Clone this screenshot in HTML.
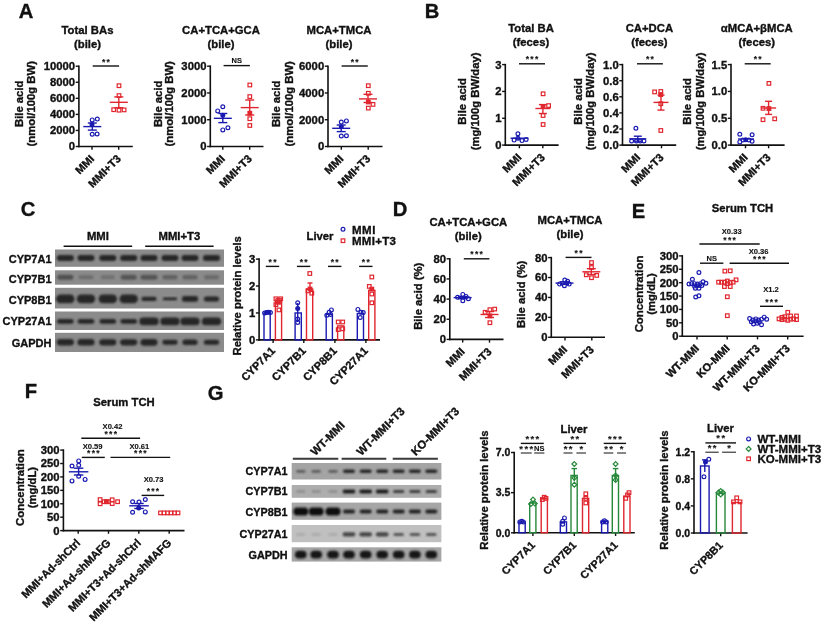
<!DOCTYPE html>
<html><head><meta charset="utf-8"><title>Figure</title>
<style>
html,body{margin:0;padding:0;background:#fff;}
svg{display:block;}
text{font-family:"Liberation Sans",Arial,sans-serif;font-weight:bold;fill:#111;stroke:#111;stroke-width:0.35px;}
.t{stroke-width:0.12px;}
</style></head><body>
<svg width="824" height="626" viewBox="0 0 824 626">
<defs><filter id="bl" x="-30%" y="-60%" width="160%" height="220%"><feGaussianBlur stdDeviation="0.9"/></filter></defs>
<rect width="824" height="626" fill="#fff"/>
<text x="18.7" y="18.2" font-size="20.2" text-anchor="start">A</text>
<text x="424.7" y="18.2" font-size="20.2" text-anchor="start">B</text>
<text x="20.7" y="216.2" font-size="20.2" text-anchor="start">C</text>
<text x="392.7" y="216.2" font-size="20.2" text-anchor="start">D</text>
<text x="631.7" y="218.2" font-size="20.2" text-anchor="start">E</text>
<text x="24.7" y="398.2" font-size="20.2" text-anchor="start">F</text>
<text x="207.7" y="400.2" font-size="20.2" text-anchor="start">G</text>
<text x="87.5" y="34" font-size="11.3" text-anchor="middle">Total BAs</text>
<text x="87.5" y="47.8" font-size="11.3" text-anchor="middle">(bile)</text>
<line x1="78.9" y1="65.4" x2="78.9" y2="147.3" stroke="#111111" stroke-width="1.6"/>
<line x1="78.1" y1="146.5" x2="132.8" y2="146.5" stroke="#111111" stroke-width="1.6"/>
<line x1="75.7" y1="66.2" x2="78.9" y2="66.2" stroke="#111111" stroke-width="1.4"/>
<text x="75.1" y="70.16" font-size="11.3" text-anchor="end">10000</text>
<line x1="75.7" y1="82.26" x2="78.9" y2="82.26" stroke="#111111" stroke-width="1.4"/>
<text x="75.1" y="86.22" font-size="11.3" text-anchor="end">8000</text>
<line x1="75.7" y1="98.32" x2="78.9" y2="98.32" stroke="#111111" stroke-width="1.4"/>
<text x="75.1" y="102.28" font-size="11.3" text-anchor="end">6000</text>
<line x1="75.7" y1="114.38" x2="78.9" y2="114.38" stroke="#111111" stroke-width="1.4"/>
<text x="75.1" y="118.34" font-size="11.3" text-anchor="end">4000</text>
<line x1="75.7" y1="130.44" x2="78.9" y2="130.44" stroke="#111111" stroke-width="1.4"/>
<text x="75.1" y="134.4" font-size="11.3" text-anchor="end">2000</text>
<line x1="75.7" y1="146.5" x2="78.9" y2="146.5" stroke="#111111" stroke-width="1.4"/>
<text x="75.1" y="150.46" font-size="11.3" text-anchor="end">0</text>
<line x1="92" y1="146.5" x2="92" y2="149.7" stroke="#111111" stroke-width="1.4"/>
<line x1="118.7" y1="146.5" x2="118.7" y2="149.7" stroke="#111111" stroke-width="1.4"/>
<text x="94.8" y="159.5" font-size="11.01" text-anchor="end" transform="rotate(-45 94.8 159.5)">MMI</text>
<text x="121.5" y="159.5" font-size="11.01" text-anchor="end" transform="rotate(-45 121.5 159.5)">MMI+T3</text>
<text x="22.6" y="103.8" font-size="11.3" text-anchor="middle" transform="rotate(-90 22.6 103.8)">Bile acid</text>
<text x="35.4" y="103.8" font-size="11.3" text-anchor="middle" transform="rotate(-90 35.4 103.8)">(nmol/100g BW)</text>
<line x1="92.7" y1="66" x2="119.1" y2="66" stroke="#111111" stroke-width="1.4"/>
<text x="106.55" y="64.5" font-size="8.5" text-anchor="middle" class="t" letter-spacing="1.3">**</text>
<line x1="83.3" y1="126.6" x2="101.3" y2="126.6" stroke="#1a1ab0" stroke-width="1.4"/>
<line x1="92.3" y1="123" x2="92.3" y2="130.1" stroke="#1a1ab0" stroke-width="1.4"/>
<line x1="87.8" y1="123" x2="96.8" y2="123" stroke="#1a1ab0" stroke-width="1.4"/>
<line x1="87.8" y1="130.1" x2="96.8" y2="130.1" stroke="#1a1ab0" stroke-width="1.4"/>
<circle cx="92.2" cy="119.9" r="1.9" stroke="#1a1ab0" stroke-width="1.2" fill="none"/>
<circle cx="97.3" cy="119.1" r="1.9" stroke="#1a1ab0" stroke-width="1.2" fill="none"/>
<circle cx="92.2" cy="134.2" r="1.9" stroke="#1a1ab0" stroke-width="1.2" fill="none"/>
<circle cx="97.1" cy="134" r="1.9" stroke="#1a1ab0" stroke-width="1.2" fill="none"/>
<circle cx="92" cy="124.5" r="1.9" stroke="#1a1ab0" stroke-width="1.2" fill="#1a1ab0"/>
<line x1="109.8" y1="102.3" x2="127.8" y2="102.3" stroke="#e0262e" stroke-width="1.4"/>
<line x1="118.8" y1="96.9" x2="118.8" y2="107.7" stroke="#e0262e" stroke-width="1.4"/>
<line x1="114.3" y1="96.9" x2="123.3" y2="96.9" stroke="#e0262e" stroke-width="1.4"/>
<line x1="114.3" y1="107.7" x2="123.3" y2="107.7" stroke="#e0262e" stroke-width="1.4"/>
<rect x="117.2" y="83.9" width="3.6" height="3.6" stroke="#e0262e" stroke-width="1.2" fill="none"/>
<rect x="117.2" y="93.8" width="3.6" height="3.6" stroke="#e0262e" stroke-width="1.2" fill="none"/>
<rect x="111.9" y="107.9" width="3.6" height="3.6" stroke="#e0262e" stroke-width="1.2" fill="none"/>
<rect x="117.2" y="108.4" width="3.6" height="3.6" stroke="#e0262e" stroke-width="1.2" fill="none"/>
<rect x="122.3" y="108.1" width="3.6" height="3.6" stroke="#e0262e" stroke-width="1.2" fill="none"/>
<text x="221" y="34" font-size="11.3" text-anchor="middle">CA+TCA+GCA</text>
<text x="221" y="47.8" font-size="11.3" text-anchor="middle">(bile)</text>
<line x1="210.3" y1="65.4" x2="210.3" y2="147.3" stroke="#111111" stroke-width="1.6"/>
<line x1="209.5" y1="146.5" x2="263.5" y2="146.5" stroke="#111111" stroke-width="1.6"/>
<line x1="207.1" y1="66.2" x2="210.3" y2="66.2" stroke="#111111" stroke-width="1.4"/>
<text x="206.5" y="70.16" font-size="11.3" text-anchor="end">3000</text>
<line x1="207.1" y1="92.97" x2="210.3" y2="92.97" stroke="#111111" stroke-width="1.4"/>
<text x="206.5" y="96.93" font-size="11.3" text-anchor="end">2000</text>
<line x1="207.1" y1="119.73" x2="210.3" y2="119.73" stroke="#111111" stroke-width="1.4"/>
<text x="206.5" y="123.69" font-size="11.3" text-anchor="end">1000</text>
<line x1="207.1" y1="146.5" x2="210.3" y2="146.5" stroke="#111111" stroke-width="1.4"/>
<text x="206.5" y="150.46" font-size="11.3" text-anchor="end">0</text>
<line x1="222.8" y1="146.5" x2="222.8" y2="149.7" stroke="#111111" stroke-width="1.4"/>
<line x1="249.7" y1="146.5" x2="249.7" y2="149.7" stroke="#111111" stroke-width="1.4"/>
<text x="225.6" y="159.5" font-size="11.01" text-anchor="end" transform="rotate(-45 225.6 159.5)">MMI</text>
<text x="252.5" y="159.5" font-size="11.01" text-anchor="end" transform="rotate(-45 252.5 159.5)">MMI+T3</text>
<text x="161.8" y="103.8" font-size="11.3" text-anchor="middle" transform="rotate(-90 161.8 103.8)">Bile acid</text>
<text x="172.8" y="103.8" font-size="11.3" text-anchor="middle" transform="rotate(-90 172.8 103.8)">(nmol/100g BW)</text>
<line x1="223.6" y1="65.6" x2="249.9" y2="65.6" stroke="#111111" stroke-width="1.4"/>
<text x="236.75" y="63.1" font-size="7.5" text-anchor="middle" class="t">NS</text>
<line x1="213.8" y1="118.3" x2="231.8" y2="118.3" stroke="#1a1ab0" stroke-width="1.4"/>
<line x1="222.8" y1="113.5" x2="222.8" y2="122.6" stroke="#1a1ab0" stroke-width="1.4"/>
<line x1="218.3" y1="113.5" x2="227.3" y2="113.5" stroke="#1a1ab0" stroke-width="1.4"/>
<line x1="218.3" y1="122.6" x2="227.3" y2="122.6" stroke="#1a1ab0" stroke-width="1.4"/>
<circle cx="222.8" cy="106.8" r="1.9" stroke="#1a1ab0" stroke-width="1.2" fill="none"/>
<circle cx="217.7" cy="110.9" r="1.9" stroke="#1a1ab0" stroke-width="1.2" fill="none"/>
<circle cx="222.8" cy="129.9" r="1.9" stroke="#1a1ab0" stroke-width="1.2" fill="none"/>
<circle cx="227.9" cy="127.8" r="1.9" stroke="#1a1ab0" stroke-width="1.2" fill="none"/>
<circle cx="222.8" cy="115.3" r="1.9" stroke="#1a1ab0" stroke-width="1.2" fill="#1a1ab0"/>
<line x1="240.7" y1="107.6" x2="258.7" y2="107.6" stroke="#e0262e" stroke-width="1.4"/>
<line x1="249.7" y1="100" x2="249.7" y2="115" stroke="#e0262e" stroke-width="1.4"/>
<line x1="245.2" y1="100" x2="254.2" y2="100" stroke="#e0262e" stroke-width="1.4"/>
<line x1="245.2" y1="115" x2="254.2" y2="115" stroke="#e0262e" stroke-width="1.4"/>
<rect x="248" y="83.2" width="3.6" height="3.6" stroke="#e0262e" stroke-width="1.2" fill="none"/>
<rect x="248" y="94.8" width="3.6" height="3.6" stroke="#e0262e" stroke-width="1.2" fill="none"/>
<rect x="248" y="116.9" width="3.6" height="3.6" stroke="#e0262e" stroke-width="1.2" fill="none"/>
<rect x="248" y="123.7" width="3.6" height="3.6" stroke="#e0262e" stroke-width="1.2" fill="none"/>
<rect x="248" y="111.4" width="3.6" height="3.6" stroke="#e0262e" stroke-width="1.2" fill="#e0262e"/>
<text x="339" y="34" font-size="11.3" text-anchor="middle">MCA+TMCA</text>
<text x="339" y="47.8" font-size="11.3" text-anchor="middle">(bile)</text>
<line x1="328" y1="65.4" x2="328" y2="147.3" stroke="#111111" stroke-width="1.6"/>
<line x1="327.2" y1="146.5" x2="382.5" y2="146.5" stroke="#111111" stroke-width="1.6"/>
<line x1="324.8" y1="66.2" x2="328" y2="66.2" stroke="#111111" stroke-width="1.4"/>
<text x="324.2" y="70.16" font-size="11.3" text-anchor="end">6000</text>
<line x1="324.8" y1="92.97" x2="328" y2="92.97" stroke="#111111" stroke-width="1.4"/>
<text x="324.2" y="96.93" font-size="11.3" text-anchor="end">4000</text>
<line x1="324.8" y1="119.73" x2="328" y2="119.73" stroke="#111111" stroke-width="1.4"/>
<text x="324.2" y="123.69" font-size="11.3" text-anchor="end">2000</text>
<line x1="324.8" y1="146.5" x2="328" y2="146.5" stroke="#111111" stroke-width="1.4"/>
<text x="324.2" y="150.46" font-size="11.3" text-anchor="end">0</text>
<line x1="341.3" y1="146.5" x2="341.3" y2="149.7" stroke="#111111" stroke-width="1.4"/>
<line x1="368.2" y1="146.5" x2="368.2" y2="149.7" stroke="#111111" stroke-width="1.4"/>
<text x="344.1" y="159.5" font-size="11.01" text-anchor="end" transform="rotate(-45 344.1 159.5)">MMI</text>
<text x="371" y="159.5" font-size="11.01" text-anchor="end" transform="rotate(-45 371 159.5)">MMI+T3</text>
<text x="280" y="103.8" font-size="11.3" text-anchor="middle" transform="rotate(-90 280 103.8)">Bile acid</text>
<text x="292.9" y="103.8" font-size="11.3" text-anchor="middle" transform="rotate(-90 292.9 103.8)">(nmol/100g BW)</text>
<line x1="341.6" y1="66" x2="367.8" y2="66" stroke="#111111" stroke-width="1.4"/>
<text x="355.35" y="64.5" font-size="8.5" text-anchor="middle" class="t" letter-spacing="1.3">**</text>
<line x1="332.2" y1="128.3" x2="350.2" y2="128.3" stroke="#1a1ab0" stroke-width="1.4"/>
<line x1="341.2" y1="125" x2="341.2" y2="131.6" stroke="#1a1ab0" stroke-width="1.4"/>
<line x1="336.7" y1="125" x2="345.7" y2="125" stroke="#1a1ab0" stroke-width="1.4"/>
<line x1="336.7" y1="131.6" x2="345.7" y2="131.6" stroke="#1a1ab0" stroke-width="1.4"/>
<circle cx="341.3" cy="122.1" r="1.9" stroke="#1a1ab0" stroke-width="1.2" fill="none"/>
<circle cx="346.4" cy="120.9" r="1.9" stroke="#1a1ab0" stroke-width="1.2" fill="none"/>
<circle cx="341.3" cy="136" r="1.9" stroke="#1a1ab0" stroke-width="1.2" fill="none"/>
<circle cx="346.4" cy="135.7" r="1.9" stroke="#1a1ab0" stroke-width="1.2" fill="none"/>
<circle cx="341.3" cy="126.8" r="1.9" stroke="#1a1ab0" stroke-width="1.2" fill="#1a1ab0"/>
<line x1="359" y1="98.9" x2="377" y2="98.9" stroke="#e0262e" stroke-width="1.4"/>
<line x1="368" y1="94.3" x2="368" y2="102.5" stroke="#e0262e" stroke-width="1.4"/>
<line x1="363.5" y1="94.3" x2="372.5" y2="94.3" stroke="#e0262e" stroke-width="1.4"/>
<line x1="363.5" y1="102.5" x2="372.5" y2="102.5" stroke="#e0262e" stroke-width="1.4"/>
<rect x="366.5" y="83.9" width="3.6" height="3.6" stroke="#e0262e" stroke-width="1.2" fill="none"/>
<rect x="366.5" y="91.5" width="3.6" height="3.6" stroke="#e0262e" stroke-width="1.2" fill="none"/>
<rect x="371.2" y="102.6" width="3.6" height="3.6" stroke="#e0262e" stroke-width="1.2" fill="none"/>
<rect x="366.5" y="106.3" width="3.6" height="3.6" stroke="#e0262e" stroke-width="1.2" fill="none"/>
<rect x="366.5" y="100.2" width="3.6" height="3.6" stroke="#e0262e" stroke-width="1.2" fill="#e0262e"/>
<text x="531" y="32" font-size="11.3" text-anchor="middle">Total BA</text>
<text x="531" y="45.8" font-size="11.3" text-anchor="middle">(feces)</text>
<line x1="505.3" y1="63.8" x2="505.3" y2="145.9" stroke="#111111" stroke-width="1.6"/>
<line x1="504.5" y1="145.1" x2="558.6" y2="145.1" stroke="#111111" stroke-width="1.6"/>
<line x1="502.1" y1="64.6" x2="505.3" y2="64.6" stroke="#111111" stroke-width="1.4"/>
<text x="501.5" y="68.56" font-size="11.3" text-anchor="end">3</text>
<line x1="502.1" y1="91.43" x2="505.3" y2="91.43" stroke="#111111" stroke-width="1.4"/>
<text x="501.5" y="95.39" font-size="11.3" text-anchor="end">2</text>
<line x1="502.1" y1="118.27" x2="505.3" y2="118.27" stroke="#111111" stroke-width="1.4"/>
<text x="501.5" y="122.23" font-size="11.3" text-anchor="end">1</text>
<line x1="502.1" y1="145.1" x2="505.3" y2="145.1" stroke="#111111" stroke-width="1.4"/>
<text x="501.5" y="149.06" font-size="11.3" text-anchor="end">0</text>
<line x1="519.4" y1="145.1" x2="519.4" y2="148.3" stroke="#111111" stroke-width="1.4"/>
<line x1="542.8" y1="145.1" x2="542.8" y2="148.3" stroke="#111111" stroke-width="1.4"/>
<text x="522.2" y="158.1" font-size="11.01" text-anchor="end" transform="rotate(-45 522.2 158.1)">MMI</text>
<text x="545.6" y="158.1" font-size="11.01" text-anchor="end" transform="rotate(-45 545.6 158.1)">MMI+T3</text>
<text x="466" y="101.4" font-size="11.3" text-anchor="middle" transform="rotate(-90 466 101.4)">Bile acid</text>
<text x="479" y="101.4" font-size="11.3" text-anchor="middle" transform="rotate(-90 479 101.4)">(mg/100g BW/day)</text>
<line x1="519" y1="63.8" x2="545" y2="63.8" stroke="#111111" stroke-width="1.4"/>
<text x="532.65" y="62.3" font-size="8.5" text-anchor="middle" class="t" letter-spacing="1.3">***</text>
<line x1="510.5" y1="138.2" x2="528.5" y2="138.2" stroke="#1a1ab0" stroke-width="1.4"/>
<line x1="518" y1="136.3" x2="518" y2="140" stroke="#1a1ab0" stroke-width="1.4"/>
<circle cx="517.9" cy="133.7" r="1.9" stroke="#1a1ab0" stroke-width="1.2" fill="none"/>
<circle cx="514.1" cy="140.1" r="1.9" stroke="#1a1ab0" stroke-width="1.2" fill="none"/>
<circle cx="517.9" cy="138.2" r="1.9" stroke="#1a1ab0" stroke-width="1.2" fill="none"/>
<circle cx="522" cy="140.6" r="1.9" stroke="#1a1ab0" stroke-width="1.2" fill="none"/>
<circle cx="526.1" cy="139.4" r="1.9" stroke="#1a1ab0" stroke-width="1.2" fill="none"/>
<line x1="535.4" y1="108.5" x2="550.4" y2="108.5" stroke="#e0262e" stroke-width="1.4"/>
<line x1="542.9" y1="104.6" x2="542.9" y2="113.5" stroke="#e0262e" stroke-width="1.4"/>
<line x1="538.9" y1="104.6" x2="546.9" y2="104.6" stroke="#e0262e" stroke-width="1.4"/>
<line x1="538.9" y1="113.5" x2="546.9" y2="113.5" stroke="#e0262e" stroke-width="1.4"/>
<rect x="541.3" y="92" width="3.6" height="3.6" stroke="#e0262e" stroke-width="1.2" fill="none"/>
<rect x="546.8" y="103.8" width="3.6" height="3.6" stroke="#e0262e" stroke-width="1.2" fill="none"/>
<rect x="541.3" y="113.7" width="3.6" height="3.6" stroke="#e0262e" stroke-width="1.2" fill="none"/>
<rect x="541.3" y="122.7" width="3.6" height="3.6" stroke="#e0262e" stroke-width="1.2" fill="none"/>
<rect x="541.3" y="104.8" width="3.6" height="3.6" stroke="#e0262e" stroke-width="1.2" fill="#e0262e"/>
<text x="649.4" y="32" font-size="11.3" text-anchor="middle">CA+DCA</text>
<text x="649.4" y="45.8" font-size="11.3" text-anchor="middle">(feces)</text>
<line x1="622.5" y1="63.8" x2="622.5" y2="145.9" stroke="#111111" stroke-width="1.6"/>
<line x1="621.7" y1="145.1" x2="676.2" y2="145.1" stroke="#111111" stroke-width="1.6"/>
<line x1="619.3" y1="64.6" x2="622.5" y2="64.6" stroke="#111111" stroke-width="1.4"/>
<text x="618.7" y="68.56" font-size="11.3" text-anchor="end">1.0</text>
<line x1="619.3" y1="80.7" x2="622.5" y2="80.7" stroke="#111111" stroke-width="1.4"/>
<text x="618.7" y="84.66" font-size="11.3" text-anchor="end">0.8</text>
<line x1="619.3" y1="96.8" x2="622.5" y2="96.8" stroke="#111111" stroke-width="1.4"/>
<text x="618.7" y="100.76" font-size="11.3" text-anchor="end">0.6</text>
<line x1="619.3" y1="112.9" x2="622.5" y2="112.9" stroke="#111111" stroke-width="1.4"/>
<text x="618.7" y="116.86" font-size="11.3" text-anchor="end">0.4</text>
<line x1="619.3" y1="129" x2="622.5" y2="129" stroke="#111111" stroke-width="1.4"/>
<text x="618.7" y="132.96" font-size="11.3" text-anchor="end">0.2</text>
<line x1="619.3" y1="145.1" x2="622.5" y2="145.1" stroke="#111111" stroke-width="1.4"/>
<text x="618.7" y="149.06" font-size="11.3" text-anchor="end">0.0</text>
<line x1="638" y1="145.1" x2="638" y2="148.3" stroke="#111111" stroke-width="1.4"/>
<line x1="661.5" y1="145.1" x2="661.5" y2="148.3" stroke="#111111" stroke-width="1.4"/>
<text x="640.8" y="158.1" font-size="11.01" text-anchor="end" transform="rotate(-45 640.8 158.1)">MMI</text>
<text x="664.3" y="158.1" font-size="11.01" text-anchor="end" transform="rotate(-45 664.3 158.1)">MMI+T3</text>
<text x="582" y="101.4" font-size="11.3" text-anchor="middle" transform="rotate(-90 582 101.4)">Bile acid</text>
<text x="594.5" y="101.4" font-size="11.3" text-anchor="middle" transform="rotate(-90 594.5 101.4)">(mg/100g BW/day)</text>
<line x1="637" y1="63.8" x2="662.9" y2="63.8" stroke="#111111" stroke-width="1.4"/>
<text x="650.6" y="62.3" font-size="8.5" text-anchor="middle" class="t" letter-spacing="1.3">**</text>
<line x1="629.3" y1="138.8" x2="646.3" y2="138.8" stroke="#1a1ab0" stroke-width="1.4"/>
<line x1="637.8" y1="136.2" x2="637.8" y2="141.2" stroke="#1a1ab0" stroke-width="1.4"/>
<line x1="633.8" y1="136.2" x2="641.8" y2="136.2" stroke="#1a1ab0" stroke-width="1.4"/>
<line x1="633.8" y1="141.2" x2="641.8" y2="141.2" stroke="#1a1ab0" stroke-width="1.4"/>
<circle cx="635.9" cy="128.3" r="1.9" stroke="#1a1ab0" stroke-width="1.2" fill="none"/>
<circle cx="631.6" cy="141" r="1.9" stroke="#1a1ab0" stroke-width="1.2" fill="none"/>
<circle cx="636.4" cy="141" r="1.9" stroke="#1a1ab0" stroke-width="1.2" fill="none"/>
<circle cx="640.2" cy="141" r="1.9" stroke="#1a1ab0" stroke-width="1.2" fill="none"/>
<circle cx="644" cy="141" r="1.9" stroke="#1a1ab0" stroke-width="1.2" fill="none"/>
<line x1="653.5" y1="102.4" x2="668.5" y2="102.4" stroke="#e0262e" stroke-width="1.4"/>
<line x1="661" y1="95.1" x2="661" y2="110.1" stroke="#e0262e" stroke-width="1.4"/>
<line x1="657.5" y1="95.1" x2="664.5" y2="95.1" stroke="#e0262e" stroke-width="1.4"/>
<line x1="657.5" y1="110.1" x2="664.5" y2="110.1" stroke="#e0262e" stroke-width="1.4"/>
<rect x="652.8" y="90.1" width="3.6" height="3.6" stroke="#e0262e" stroke-width="1.2" fill="none"/>
<rect x="659" y="89.7" width="3.6" height="3.6" stroke="#e0262e" stroke-width="1.2" fill="none"/>
<rect x="659" y="101.9" width="3.6" height="3.6" stroke="#e0262e" stroke-width="1.2" fill="none"/>
<rect x="659" y="128.7" width="3.6" height="3.6" stroke="#e0262e" stroke-width="1.2" fill="none"/>
<rect x="659" y="92.8" width="3.6" height="3.6" stroke="#e0262e" stroke-width="1.2" fill="#e0262e"/>
<text x="756.8" y="32" font-size="11.3" text-anchor="middle">αMCA+βMCA</text>
<text x="756.8" y="45.8" font-size="11.3" text-anchor="middle">(feces)</text>
<line x1="731" y1="63.8" x2="731" y2="145.9" stroke="#111111" stroke-width="1.6"/>
<line x1="730.2" y1="145.1" x2="784.6" y2="145.1" stroke="#111111" stroke-width="1.6"/>
<line x1="727.8" y1="64.6" x2="731" y2="64.6" stroke="#111111" stroke-width="1.4"/>
<text x="727.2" y="68.56" font-size="11.3" text-anchor="end">1.5</text>
<line x1="727.8" y1="91.43" x2="731" y2="91.43" stroke="#111111" stroke-width="1.4"/>
<text x="727.2" y="95.39" font-size="11.3" text-anchor="end">1.0</text>
<line x1="727.8" y1="118.27" x2="731" y2="118.27" stroke="#111111" stroke-width="1.4"/>
<text x="727.2" y="122.23" font-size="11.3" text-anchor="end">0.5</text>
<line x1="727.8" y1="145.1" x2="731" y2="145.1" stroke="#111111" stroke-width="1.4"/>
<text x="727.2" y="149.06" font-size="11.3" text-anchor="end">0.0</text>
<line x1="745.5" y1="145.1" x2="745.5" y2="148.3" stroke="#111111" stroke-width="1.4"/>
<line x1="768.6" y1="145.1" x2="768.6" y2="148.3" stroke="#111111" stroke-width="1.4"/>
<text x="748.3" y="158.1" font-size="11.01" text-anchor="end" transform="rotate(-45 748.3 158.1)">MMI</text>
<text x="771.4" y="158.1" font-size="11.01" text-anchor="end" transform="rotate(-45 771.4 158.1)">MMI+T3</text>
<text x="691.5" y="101.4" font-size="11.3" text-anchor="middle" transform="rotate(-90 691.5 101.4)">Bile acid</text>
<text x="704" y="101.4" font-size="11.3" text-anchor="middle" transform="rotate(-90 704 101.4)">(mg/100g BW/day)</text>
<line x1="744.7" y1="63.8" x2="770.7" y2="63.8" stroke="#111111" stroke-width="1.4"/>
<text x="758.35" y="62.3" font-size="8.5" text-anchor="middle" class="t" letter-spacing="1.3">**</text>
<line x1="738" y1="139" x2="754" y2="139" stroke="#1a1ab0" stroke-width="1.4"/>
<circle cx="739.8" cy="134.3" r="1.9" stroke="#1a1ab0" stroke-width="1.2" fill="none"/>
<circle cx="752.1" cy="134.8" r="1.9" stroke="#1a1ab0" stroke-width="1.2" fill="none"/>
<circle cx="739.8" cy="141.9" r="1.9" stroke="#1a1ab0" stroke-width="1.2" fill="none"/>
<circle cx="752.1" cy="141.2" r="1.9" stroke="#1a1ab0" stroke-width="1.2" fill="none"/>
<circle cx="743" cy="140" r="1.9" stroke="#1a1ab0" stroke-width="1.2" fill="none"/>
<circle cx="749" cy="140" r="1.9" stroke="#1a1ab0" stroke-width="1.2" fill="none"/>
<circle cx="745.7" cy="139.7" r="1.9" stroke="#1a1ab0" stroke-width="1.2" fill="#1a1ab0"/>
<line x1="761.1" y1="108" x2="776.1" y2="108" stroke="#e0262e" stroke-width="1.4"/>
<line x1="768.6" y1="101.3" x2="768.6" y2="114.4" stroke="#e0262e" stroke-width="1.4"/>
<line x1="765.1" y1="101.3" x2="772.1" y2="101.3" stroke="#e0262e" stroke-width="1.4"/>
<line x1="765.1" y1="114.4" x2="772.1" y2="114.4" stroke="#e0262e" stroke-width="1.4"/>
<rect x="767.1" y="81.6" width="3.6" height="3.6" stroke="#e0262e" stroke-width="1.2" fill="none"/>
<rect x="761.2" y="106.5" width="3.6" height="3.6" stroke="#e0262e" stroke-width="1.2" fill="none"/>
<rect x="761.2" y="117.9" width="3.6" height="3.6" stroke="#e0262e" stroke-width="1.2" fill="none"/>
<rect x="772.9" y="117" width="3.6" height="3.6" stroke="#e0262e" stroke-width="1.2" fill="none"/>
<rect x="767.1" y="106.8" width="3.6" height="3.6" stroke="#e0262e" stroke-width="1.2" fill="#e0262e"/>
<text x="51.5" y="262.5" font-size="11.01" text-anchor="end">CYP7A1</text>
<text x="51.5" y="282.6" font-size="11.01" text-anchor="end">CYP7B1</text>
<text x="51.5" y="303.9" font-size="11.01" text-anchor="end">CYP8B1</text>
<text x="51.5" y="324.9" font-size="11.01" text-anchor="end">CYP27A1</text>
<text x="51.5" y="346.5" font-size="11.01" text-anchor="end">GAPDH</text>
<text x="97.9" y="240.3" font-size="11.3" text-anchor="middle">MMI</text>
<text x="179.4" y="240.3" font-size="11.3" text-anchor="middle">MMI+T3</text>
<line x1="63.6" y1="246.3" x2="132.2" y2="246.3" stroke="#111111" stroke-width="1.5"/>
<line x1="145.2" y1="246.3" x2="213.6" y2="246.3" stroke="#111111" stroke-width="1.5"/>
<rect x="55" y="249.5" width="169" height="17.3" fill="#8b8b8b"/>
<rect x="56.75" y="255.1" width="17.1" height="5.8" rx="2.9" fill="#262626" filter="url(#bl)"/>
<rect x="77.45" y="255.1" width="17.1" height="5.8" rx="2.9" fill="#262626" filter="url(#bl)"/>
<rect x="99.25" y="255.1" width="17.1" height="5.8" rx="2.9" fill="#262626" filter="url(#bl)"/>
<rect x="120.15" y="255.1" width="17.1" height="5.8" rx="2.9" fill="#262626" filter="url(#bl)"/>
<rect x="140.45" y="255.1" width="17.1" height="5.8" rx="2.9" fill="#262626" filter="url(#bl)"/>
<rect x="161.45" y="255.1" width="17.1" height="5.8" rx="2.9" fill="#262626" filter="url(#bl)"/>
<rect x="181.45" y="255.1" width="17.1" height="5.8" rx="2.9" fill="#262626" filter="url(#bl)"/>
<rect x="202.95" y="255.1" width="17.1" height="5.8" rx="2.9" fill="#262626" filter="url(#bl)"/>
<rect x="55" y="270.3" width="169" height="14.4" fill="#8b8b8b"/>
<rect x="57.22" y="274.7" width="16.15" height="5" rx="2.5" fill="#505050" filter="url(#bl)"/>
<rect x="78.4" y="275.2" width="15.2" height="4" rx="2" fill="#6c6c6c" filter="url(#bl)"/>
<rect x="100.67" y="275.2" width="14.25" height="4" rx="2" fill="#707070" filter="url(#bl)"/>
<rect x="120.62" y="274.7" width="16.15" height="5" rx="2.5" fill="#555555" filter="url(#bl)"/>
<rect x="140.45" y="274.7" width="17.1" height="5" rx="2.5" fill="#555555" filter="url(#bl)"/>
<rect x="162.4" y="274.95" width="15.2" height="4.5" rx="2.25" fill="#606060" filter="url(#bl)"/>
<rect x="182.4" y="274.95" width="15.2" height="4.5" rx="2.25" fill="#626262" filter="url(#bl)"/>
<rect x="203.9" y="274.95" width="15.2" height="4.5" rx="2.25" fill="#6a6a6a" filter="url(#bl)"/>
<rect x="55" y="287.8" width="169" height="20.7" fill="#8b8b8b"/>
<rect x="56.08" y="294.6" width="18.43" height="8.6" rx="4.3" fill="#262626" filter="url(#bl)"/>
<rect x="76.78" y="294.6" width="18.43" height="8.6" rx="4.3" fill="#262626" filter="url(#bl)"/>
<rect x="98.58" y="294.6" width="18.43" height="8.6" rx="4.3" fill="#262626" filter="url(#bl)"/>
<rect x="119.48" y="294.6" width="18.43" height="8.6" rx="4.3" fill="#262626" filter="url(#bl)"/>
<rect x="141.4" y="296.8" width="15.2" height="4.2" rx="2.1" fill="#262626" filter="url(#bl)"/>
<rect x="162.88" y="297.6" width="14.25" height="2.6" rx="1.3" fill="#262626" filter="url(#bl)"/>
<rect x="181.93" y="296.1" width="16.15" height="5.6" rx="2.8" fill="#262626" filter="url(#bl)"/>
<rect x="203.9" y="296.4" width="15.2" height="5" rx="2.5" fill="#262626" filter="url(#bl)"/>
<rect x="55" y="311.5" width="169" height="18.5" fill="#8b8b8b"/>
<rect x="56.94" y="319" width="16.72" height="4.8" rx="2.4" fill="#262626" filter="url(#bl)"/>
<rect x="77.64" y="319" width="16.72" height="4.8" rx="2.4" fill="#262626" filter="url(#bl)"/>
<rect x="99.44" y="319" width="16.72" height="4.8" rx="2.4" fill="#262626" filter="url(#bl)"/>
<rect x="120.34" y="319" width="16.72" height="4.8" rx="2.4" fill="#262626" filter="url(#bl)"/>
<rect x="139.31" y="317.6" width="19.38" height="7.6" rx="3.8" fill="#262626" filter="url(#bl)"/>
<rect x="160.31" y="317.6" width="19.38" height="7.6" rx="3.8" fill="#262626" filter="url(#bl)"/>
<rect x="180.31" y="317.6" width="19.38" height="7.6" rx="3.8" fill="#262626" filter="url(#bl)"/>
<rect x="201.81" y="317.6" width="19.38" height="7.6" rx="3.8" fill="#262626" filter="url(#bl)"/>
<rect x="55" y="332.8" width="169" height="19.2" fill="#8b8b8b"/>
<rect x="56.75" y="339.05" width="17.1" height="6.5" rx="3.25" fill="#262626" filter="url(#bl)"/>
<rect x="77.45" y="339.05" width="17.1" height="6.5" rx="3.25" fill="#262626" filter="url(#bl)"/>
<rect x="99.25" y="339.2" width="17.1" height="6.2" rx="3.1" fill="#262626" filter="url(#bl)"/>
<rect x="120.15" y="339.2" width="17.1" height="6.2" rx="3.1" fill="#262626" filter="url(#bl)"/>
<rect x="140.45" y="338.95" width="17.1" height="6.7" rx="3.35" fill="#262626" filter="url(#bl)"/>
<rect x="162.4" y="339.8" width="15.2" height="5" rx="2.5" fill="#262626" filter="url(#bl)"/>
<rect x="182.4" y="339.55" width="15.2" height="5.5" rx="2.75" fill="#262626" filter="url(#bl)"/>
<rect x="203.9" y="339.8" width="15.2" height="5" rx="2.5" fill="#262626" filter="url(#bl)"/>
<line x1="259.1" y1="258.31" x2="259.1" y2="340.7" stroke="#111111" stroke-width="1.6"/>
<line x1="258.3" y1="339.9" x2="380" y2="339.9" stroke="#111111" stroke-width="1.6"/>
<line x1="255.9" y1="339.9" x2="259.1" y2="339.9" stroke="#111111" stroke-width="1.4"/>
<text x="255.3" y="343.86" font-size="11.3" text-anchor="end">0</text>
<line x1="255.9" y1="312.97" x2="259.1" y2="312.97" stroke="#111111" stroke-width="1.4"/>
<text x="255.3" y="316.93" font-size="11.3" text-anchor="end">1</text>
<line x1="255.9" y1="286.04" x2="259.1" y2="286.04" stroke="#111111" stroke-width="1.4"/>
<text x="255.3" y="290" font-size="11.3" text-anchor="end">2</text>
<line x1="255.9" y1="259.11" x2="259.1" y2="259.11" stroke="#111111" stroke-width="1.4"/>
<text x="255.3" y="263.07" font-size="11.3" text-anchor="end">3</text>
<line x1="273.1" y1="339.9" x2="273.1" y2="343.1" stroke="#111111" stroke-width="1.4"/>
<line x1="303.8" y1="339.9" x2="303.8" y2="343.1" stroke="#111111" stroke-width="1.4"/>
<line x1="334.9" y1="339.9" x2="334.9" y2="343.1" stroke="#111111" stroke-width="1.4"/>
<line x1="365.9" y1="339.9" x2="365.9" y2="343.1" stroke="#111111" stroke-width="1.4"/>
<text x="275.9" y="351.5" font-size="11.01" text-anchor="end" transform="rotate(-45 275.9 351.5)">CYP7A1</text>
<text x="306.6" y="351.5" font-size="11.01" text-anchor="end" transform="rotate(-45 306.6 351.5)">CYP7B1</text>
<text x="337.7" y="351.5" font-size="11.01" text-anchor="end" transform="rotate(-45 337.7 351.5)">CYP8B1</text>
<text x="368.7" y="351.5" font-size="11.01" text-anchor="end" transform="rotate(-45 368.7 351.5)">CYP27A1</text>
<text x="241.5" y="295.8" font-size="11.3" text-anchor="middle" transform="rotate(-90 241.5 295.8)">Relative protein levels</text>
<text x="320" y="239.7" font-size="11.3" text-anchor="middle">Liver</text>
<circle cx="343" cy="229.3" r="1.9" stroke="#1a1ab0" stroke-width="1.2" fill="none"/>
<text x="351.9" y="233.7" font-size="11.5" text-anchor="start" letter-spacing="0.6">MMI</text>
<rect x="341.2" y="238.9" width="3.6" height="3.6" stroke="#e0262e" stroke-width="1.2" fill="none"/>
<text x="351.9" y="244.6" font-size="11.5" text-anchor="start" letter-spacing="0.3">MMI+T3</text>
<rect x="264" y="312.97" width="6.2" height="26.93" stroke="#1a1ab0" stroke-width="1.4" fill="none"/>
<rect x="275.4" y="300.04" width="6.2" height="39.86" stroke="#e0262e" stroke-width="1.4" fill="none"/>
<line x1="265.8" y1="266.4" x2="279.2" y2="266.4" stroke="#111111" stroke-width="1.4"/>
<text x="273.15" y="264.9" font-size="8.5" text-anchor="middle" class="t" letter-spacing="1.3">**</text>
<rect x="295.1" y="312.97" width="6.2" height="26.93" stroke="#1a1ab0" stroke-width="1.4" fill="none"/>
<rect x="306.5" y="289" width="6.2" height="50.9" stroke="#e0262e" stroke-width="1.4" fill="none"/>
<line x1="296.9" y1="266.4" x2="310.3" y2="266.4" stroke="#111111" stroke-width="1.4"/>
<text x="304.25" y="264.9" font-size="8.5" text-anchor="middle" class="t" letter-spacing="1.3">**</text>
<rect x="326.2" y="314.32" width="6.2" height="25.58" stroke="#1a1ab0" stroke-width="1.4" fill="none"/>
<rect x="337.6" y="325.9" width="6.2" height="14" stroke="#e0262e" stroke-width="1.4" fill="none"/>
<line x1="328" y1="266.4" x2="341.4" y2="266.4" stroke="#111111" stroke-width="1.4"/>
<text x="335.35" y="264.9" font-size="8.5" text-anchor="middle" class="t" letter-spacing="1.3">**</text>
<rect x="357.3" y="313.51" width="6.2" height="26.39" stroke="#1a1ab0" stroke-width="1.4" fill="none"/>
<rect x="368.7" y="290.35" width="6.2" height="49.55" stroke="#e0262e" stroke-width="1.4" fill="none"/>
<line x1="359.1" y1="266.4" x2="372.5" y2="266.4" stroke="#111111" stroke-width="1.4"/>
<text x="366.45" y="264.9" font-size="8.5" text-anchor="middle" class="t" letter-spacing="1.3">**</text>
<circle cx="264.6" cy="313" r="1.9" stroke="#1a1ab0" stroke-width="1.2" fill="none"/>
<circle cx="266.6" cy="312.5" r="1.9" stroke="#1a1ab0" stroke-width="1.2" fill="#1a1ab0"/>
<circle cx="268.6" cy="312.2" r="1.9" stroke="#1a1ab0" stroke-width="1.2" fill="#1a1ab0"/>
<circle cx="270.4" cy="312.6" r="1.9" stroke="#1a1ab0" stroke-width="1.2" fill="none"/>
<line x1="275.5" y1="298.8" x2="282" y2="298.8" stroke="#e0262e" stroke-width="1.4"/>
<rect x="274.1" y="297" width="3.6" height="3.6" stroke="#e0262e" stroke-width="1.2" fill="none"/>
<rect x="278.9" y="297" width="3.6" height="3.6" stroke="#e0262e" stroke-width="1.2" fill="none"/>
<rect x="274.1" y="302.8" width="3.6" height="3.6" stroke="#e0262e" stroke-width="1.2" fill="none"/>
<rect x="277.1" y="308.1" width="3.6" height="3.6" stroke="#e0262e" stroke-width="1.2" fill="none"/>
<rect x="276.7" y="300.5" width="3.6" height="3.6" stroke="#e0262e" stroke-width="1.2" fill="#e0262e"/>
<line x1="297.7" y1="303" x2="297.7" y2="322" stroke="#1a1ab0" stroke-width="1.4"/>
<circle cx="297.7" cy="302.8" r="1.9" stroke="#1a1ab0" stroke-width="1.2" fill="none"/>
<circle cx="297.7" cy="319" r="1.9" stroke="#1a1ab0" stroke-width="1.2" fill="none"/>
<circle cx="297.7" cy="322.5" r="1.9" stroke="#1a1ab0" stroke-width="1.2" fill="none"/>
<circle cx="297.7" cy="308.4" r="1.9" stroke="#1a1ab0" stroke-width="1.2" fill="#1a1ab0"/>
<line x1="310" y1="283" x2="310" y2="290" stroke="#e0262e" stroke-width="1.4"/>
<line x1="307.5" y1="283" x2="312.5" y2="283" stroke="#e0262e" stroke-width="1.4"/>
<rect x="308" y="271.7" width="3.6" height="3.6" stroke="#e0262e" stroke-width="1.2" fill="none"/>
<rect x="306.2" y="289.1" width="3.6" height="3.6" stroke="#e0262e" stroke-width="1.2" fill="none"/>
<rect x="310" y="291.4" width="3.6" height="3.6" stroke="#e0262e" stroke-width="1.2" fill="none"/>
<rect x="308.2" y="287.2" width="3.6" height="3.6" stroke="#e0262e" stroke-width="1.2" fill="#e0262e"/>
<circle cx="326.8" cy="315.2" r="1.9" stroke="#1a1ab0" stroke-width="1.2" fill="none"/>
<circle cx="329.1" cy="312.2" r="1.9" stroke="#1a1ab0" stroke-width="1.2" fill="none"/>
<circle cx="331.4" cy="309.9" r="1.9" stroke="#1a1ab0" stroke-width="1.2" fill="none"/>
<circle cx="330.6" cy="314.4" r="1.9" stroke="#1a1ab0" stroke-width="1.2" fill="none"/>
<rect x="336.4" y="320.2" width="3.6" height="3.6" stroke="#e0262e" stroke-width="1.2" fill="none"/>
<rect x="340.9" y="320.2" width="3.6" height="3.6" stroke="#e0262e" stroke-width="1.2" fill="none"/>
<rect x="336.4" y="327.8" width="3.6" height="3.6" stroke="#e0262e" stroke-width="1.2" fill="none"/>
<rect x="340.9" y="327" width="3.6" height="3.6" stroke="#e0262e" stroke-width="1.2" fill="none"/>
<circle cx="357.9" cy="309.4" r="1.9" stroke="#1a1ab0" stroke-width="1.2" fill="none"/>
<circle cx="360.9" cy="312.2" r="1.9" stroke="#1a1ab0" stroke-width="1.2" fill="none"/>
<circle cx="363.2" cy="312.5" r="1.9" stroke="#1a1ab0" stroke-width="1.2" fill="none"/>
<circle cx="360.2" cy="317.5" r="1.9" stroke="#1a1ab0" stroke-width="1.2" fill="none"/>
<rect x="370" y="275.2" width="3.6" height="3.6" stroke="#e0262e" stroke-width="1.2" fill="none"/>
<rect x="367.5" y="284.6" width="3.6" height="3.6" stroke="#e0262e" stroke-width="1.2" fill="none"/>
<rect x="370" y="292.2" width="3.6" height="3.6" stroke="#e0262e" stroke-width="1.2" fill="none"/>
<rect x="370" y="301" width="3.6" height="3.6" stroke="#e0262e" stroke-width="1.2" fill="none"/>
<rect x="370" y="287.3" width="3.6" height="3.6" stroke="#e0262e" stroke-width="1.2" fill="#e0262e"/>
<text x="468.3" y="225.8" font-size="11.3" text-anchor="middle">CA+TCA+GCA</text>
<text x="468.3" y="239.6" font-size="11.3" text-anchor="middle">(bile)</text>
<line x1="449.8" y1="258" x2="449.8" y2="340.2" stroke="#111111" stroke-width="1.6"/>
<line x1="449" y1="339.4" x2="503.5" y2="339.4" stroke="#111111" stroke-width="1.6"/>
<line x1="446.6" y1="258.8" x2="449.8" y2="258.8" stroke="#111111" stroke-width="1.4"/>
<text x="446" y="262.76" font-size="11.3" text-anchor="end">80</text>
<line x1="446.6" y1="278.95" x2="449.8" y2="278.95" stroke="#111111" stroke-width="1.4"/>
<text x="446" y="282.91" font-size="11.3" text-anchor="end">60</text>
<line x1="446.6" y1="299.1" x2="449.8" y2="299.1" stroke="#111111" stroke-width="1.4"/>
<text x="446" y="303.06" font-size="11.3" text-anchor="end">40</text>
<line x1="446.6" y1="319.25" x2="449.8" y2="319.25" stroke="#111111" stroke-width="1.4"/>
<text x="446" y="323.21" font-size="11.3" text-anchor="end">20</text>
<line x1="446.6" y1="339.4" x2="449.8" y2="339.4" stroke="#111111" stroke-width="1.4"/>
<text x="446" y="343.36" font-size="11.3" text-anchor="end">0</text>
<line x1="462.7" y1="339.4" x2="462.7" y2="342.6" stroke="#111111" stroke-width="1.4"/>
<line x1="489.5" y1="339.4" x2="489.5" y2="342.6" stroke="#111111" stroke-width="1.4"/>
<text x="465.5" y="352.4" font-size="11.01" text-anchor="end" transform="rotate(-45 465.5 352.4)">MMI</text>
<text x="492.3" y="352.4" font-size="11.01" text-anchor="end" transform="rotate(-45 492.3 352.4)">MMI+T3</text>
<text x="422" y="296.2" font-size="11.3" text-anchor="middle" transform="rotate(-90 422 296.2)">Bile acid (%)</text>
<line x1="463.8" y1="258.8" x2="489.4" y2="258.8" stroke="#111111" stroke-width="1.4"/>
<text x="477.25" y="257.3" font-size="8.5" text-anchor="middle" class="t" letter-spacing="1.3">***</text>
<line x1="453.6" y1="297.6" x2="471.6" y2="297.6" stroke="#1a1ab0" stroke-width="1.4"/>
<line x1="462.6" y1="296.5" x2="462.6" y2="298.7" stroke="#1a1ab0" stroke-width="1.4"/>
<line x1="458.1" y1="296.5" x2="467.1" y2="296.5" stroke="#1a1ab0" stroke-width="1.4"/>
<line x1="458.1" y1="298.7" x2="467.1" y2="298.7" stroke="#1a1ab0" stroke-width="1.4"/>
<circle cx="462.8" cy="294.4" r="1.9" stroke="#1a1ab0" stroke-width="1.2" fill="none"/>
<circle cx="462.8" cy="300.8" r="1.9" stroke="#1a1ab0" stroke-width="1.2" fill="none"/>
<circle cx="457.6" cy="297.2" r="1.9" stroke="#1a1ab0" stroke-width="1.2" fill="none"/>
<circle cx="466" cy="296.4" r="1.9" stroke="#1a1ab0" stroke-width="1.2" fill="none"/>
<circle cx="468.4" cy="298.8" r="1.9" stroke="#1a1ab0" stroke-width="1.2" fill="none"/>
<line x1="480.5" y1="314.5" x2="498.5" y2="314.5" stroke="#e0262e" stroke-width="1.4"/>
<line x1="489.5" y1="311.5" x2="489.5" y2="317.5" stroke="#e0262e" stroke-width="1.4"/>
<line x1="485" y1="311.5" x2="494" y2="311.5" stroke="#e0262e" stroke-width="1.4"/>
<line x1="485" y1="317.5" x2="494" y2="317.5" stroke="#e0262e" stroke-width="1.4"/>
<rect x="483.3" y="310.5" width="3.6" height="3.6" stroke="#e0262e" stroke-width="1.2" fill="none"/>
<rect x="488.1" y="307.9" width="3.6" height="3.6" stroke="#e0262e" stroke-width="1.2" fill="none"/>
<rect x="492.9" y="307.3" width="3.6" height="3.6" stroke="#e0262e" stroke-width="1.2" fill="none"/>
<rect x="488.1" y="320.9" width="3.6" height="3.6" stroke="#e0262e" stroke-width="1.2" fill="none"/>
<rect x="488.1" y="314.1" width="3.6" height="3.6" stroke="#e0262e" stroke-width="1.2" fill="#e0262e"/>
<text x="570" y="224.3" font-size="11.3" text-anchor="middle">MCA+TMCA</text>
<text x="570" y="238.1" font-size="11.3" text-anchor="middle">(bile)</text>
<line x1="551.3" y1="256.8" x2="551.3" y2="338.1" stroke="#111111" stroke-width="1.6"/>
<line x1="550.5" y1="337.3" x2="605" y2="337.3" stroke="#111111" stroke-width="1.6"/>
<line x1="548.1" y1="257.6" x2="551.3" y2="257.6" stroke="#111111" stroke-width="1.4"/>
<text x="547.5" y="261.56" font-size="11.3" text-anchor="end">80</text>
<line x1="548.1" y1="277.53" x2="551.3" y2="277.53" stroke="#111111" stroke-width="1.4"/>
<text x="547.5" y="281.49" font-size="11.3" text-anchor="end">60</text>
<line x1="548.1" y1="297.45" x2="551.3" y2="297.45" stroke="#111111" stroke-width="1.4"/>
<text x="547.5" y="301.41" font-size="11.3" text-anchor="end">40</text>
<line x1="548.1" y1="317.38" x2="551.3" y2="317.38" stroke="#111111" stroke-width="1.4"/>
<text x="547.5" y="321.33" font-size="11.3" text-anchor="end">20</text>
<line x1="548.1" y1="337.3" x2="551.3" y2="337.3" stroke="#111111" stroke-width="1.4"/>
<text x="547.5" y="341.26" font-size="11.3" text-anchor="end">0</text>
<line x1="565" y1="337.3" x2="565" y2="340.5" stroke="#111111" stroke-width="1.4"/>
<line x1="591.8" y1="337.3" x2="591.8" y2="340.5" stroke="#111111" stroke-width="1.4"/>
<text x="567.8" y="350.3" font-size="11.01" text-anchor="end" transform="rotate(-45 567.8 350.3)">MMI</text>
<text x="594.6" y="350.3" font-size="11.01" text-anchor="end" transform="rotate(-45 594.6 350.3)">MMI+T3</text>
<text x="525.2" y="294.3" font-size="11.3" text-anchor="middle" transform="rotate(-90 525.2 294.3)">Bile acid (%)</text>
<line x1="565.6" y1="257.4" x2="591.5" y2="257.4" stroke="#111111" stroke-width="1.4"/>
<text x="579.2" y="255.9" font-size="8.5" text-anchor="middle" class="t" letter-spacing="1.3">**</text>
<line x1="555.5" y1="283.1" x2="573.5" y2="283.1" stroke="#1a1ab0" stroke-width="1.4"/>
<line x1="564.5" y1="281.8" x2="564.5" y2="284.4" stroke="#1a1ab0" stroke-width="1.4"/>
<line x1="560" y1="281.8" x2="569" y2="281.8" stroke="#1a1ab0" stroke-width="1.4"/>
<line x1="560" y1="284.4" x2="569" y2="284.4" stroke="#1a1ab0" stroke-width="1.4"/>
<circle cx="564.8" cy="280.1" r="1.9" stroke="#1a1ab0" stroke-width="1.2" fill="none"/>
<circle cx="559.6" cy="284.1" r="1.9" stroke="#1a1ab0" stroke-width="1.2" fill="none"/>
<circle cx="564.4" cy="285.7" r="1.9" stroke="#1a1ab0" stroke-width="1.2" fill="none"/>
<circle cx="569.2" cy="284.1" r="1.9" stroke="#1a1ab0" stroke-width="1.2" fill="none"/>
<circle cx="567.6" cy="281.3" r="1.9" stroke="#1a1ab0" stroke-width="1.2" fill="none"/>
<line x1="582.3" y1="271.8" x2="600.3" y2="271.8" stroke="#e0262e" stroke-width="1.4"/>
<line x1="591.3" y1="268.7" x2="591.3" y2="274.5" stroke="#e0262e" stroke-width="1.4"/>
<line x1="586.8" y1="268.7" x2="595.8" y2="268.7" stroke="#e0262e" stroke-width="1.4"/>
<line x1="586.8" y1="274.5" x2="595.8" y2="274.5" stroke="#e0262e" stroke-width="1.4"/>
<rect x="589.7" y="260.8" width="3.6" height="3.6" stroke="#e0262e" stroke-width="1.2" fill="none"/>
<rect x="589.7" y="265.7" width="3.6" height="3.6" stroke="#e0262e" stroke-width="1.2" fill="none"/>
<rect x="584.5" y="273" width="3.6" height="3.6" stroke="#e0262e" stroke-width="1.2" fill="none"/>
<rect x="589.7" y="275.9" width="3.6" height="3.6" stroke="#e0262e" stroke-width="1.2" fill="none"/>
<rect x="594.9" y="273.6" width="3.6" height="3.6" stroke="#e0262e" stroke-width="1.2" fill="none"/>
<text x="742.5" y="212" font-size="11.3" text-anchor="middle">Serum TCH</text>
<line x1="682.3" y1="255.1" x2="682.3" y2="337" stroke="#111111" stroke-width="1.6"/>
<line x1="681.5" y1="336.2" x2="803.6" y2="336.2" stroke="#111111" stroke-width="1.6"/>
<line x1="679.1" y1="255.9" x2="682.3" y2="255.9" stroke="#111111" stroke-width="1.4"/>
<text x="678.5" y="259.86" font-size="11.3" text-anchor="end">300</text>
<line x1="679.1" y1="269.28" x2="682.3" y2="269.28" stroke="#111111" stroke-width="1.4"/>
<text x="678.5" y="273.24" font-size="11.3" text-anchor="end">250</text>
<line x1="679.1" y1="282.67" x2="682.3" y2="282.67" stroke="#111111" stroke-width="1.4"/>
<text x="678.5" y="286.63" font-size="11.3" text-anchor="end">200</text>
<line x1="679.1" y1="296.05" x2="682.3" y2="296.05" stroke="#111111" stroke-width="1.4"/>
<text x="678.5" y="300.01" font-size="11.3" text-anchor="end">150</text>
<line x1="679.1" y1="309.43" x2="682.3" y2="309.43" stroke="#111111" stroke-width="1.4"/>
<text x="678.5" y="313.39" font-size="11.3" text-anchor="end">100</text>
<line x1="679.1" y1="322.82" x2="682.3" y2="322.82" stroke="#111111" stroke-width="1.4"/>
<text x="678.5" y="326.78" font-size="11.3" text-anchor="end">50</text>
<line x1="679.1" y1="336.2" x2="682.3" y2="336.2" stroke="#111111" stroke-width="1.4"/>
<text x="678.5" y="340.16" font-size="11.3" text-anchor="end">0</text>
<line x1="697" y1="336.2" x2="697" y2="339.4" stroke="#111111" stroke-width="1.4"/>
<line x1="727.2" y1="336.2" x2="727.2" y2="339.4" stroke="#111111" stroke-width="1.4"/>
<line x1="757.5" y1="336.2" x2="757.5" y2="339.4" stroke="#111111" stroke-width="1.4"/>
<line x1="787.7" y1="336.2" x2="787.7" y2="339.4" stroke="#111111" stroke-width="1.4"/>
<text x="699.8" y="349.2" font-size="11.01" text-anchor="end" transform="rotate(-45 699.8 349.2)">WT-MMI</text>
<text x="730.3" y="349.2" font-size="11.01" text-anchor="end" transform="rotate(-45 730.3 349.2)">KO-MMI</text>
<text x="760.6" y="349.2" font-size="11.01" text-anchor="end" transform="rotate(-45 760.6 349.2)">WT-MMI+T3</text>
<text x="790.7" y="349.2" font-size="11.01" text-anchor="end" transform="rotate(-45 790.7 349.2)">KO-MMI+T3</text>
<text x="643.4" y="294" font-size="11.3" text-anchor="middle" transform="rotate(-90 643.4 294)">Concentration</text>
<text x="655" y="294" font-size="11.3" text-anchor="middle" transform="rotate(-90 655 294)">(mg/dL)</text>
<line x1="699.4" y1="244" x2="759.7" y2="244" stroke="#111111" stroke-width="1.4"/>
<text x="730.2" y="242.5" font-size="8.5" text-anchor="middle" class="t" letter-spacing="1.3">***</text>
<text x="731.7" y="233.7" font-size="7.6" text-anchor="middle" class="t">X0.33</text>
<line x1="700" y1="263.2" x2="723.4" y2="263.2" stroke="#111111" stroke-width="1.4"/>
<text x="711.7" y="260.7" font-size="7.5" text-anchor="middle" class="t">NS</text>
<line x1="729.6" y1="263.2" x2="789" y2="263.2" stroke="#111111" stroke-width="1.4"/>
<text x="759.95" y="261.7" font-size="8.5" text-anchor="middle" class="t" letter-spacing="1.3">***</text>
<text x="758.6" y="254" font-size="7.6" text-anchor="middle" class="t">X0.36</text>
<line x1="760" y1="306.3" x2="783" y2="306.3" stroke="#111111" stroke-width="1.4"/>
<text x="772.15" y="304.8" font-size="8.5" text-anchor="middle" class="t" letter-spacing="1.3">***</text>
<text x="771" y="292" font-size="7.6" text-anchor="middle" class="t">X1.2</text>
<circle cx="698.93" cy="272.57" r="1.9" stroke="#1a1ab0" stroke-width="1.2" fill="none"/>
<circle cx="692.38" cy="279.27" r="1.9" stroke="#1a1ab0" stroke-width="1.2" fill="none"/>
<circle cx="689.03" cy="283.93" r="1.9" stroke="#1a1ab0" stroke-width="1.2" fill="none"/>
<circle cx="691.65" cy="283.64" r="1.9" stroke="#1a1ab0" stroke-width="1.2" fill="none"/>
<circle cx="694.56" cy="283.64" r="1.9" stroke="#1a1ab0" stroke-width="1.2" fill="none"/>
<circle cx="697.47" cy="283.93" r="1.9" stroke="#1a1ab0" stroke-width="1.2" fill="none"/>
<circle cx="700.39" cy="283.64" r="1.9" stroke="#1a1ab0" stroke-width="1.2" fill="none"/>
<circle cx="703.01" cy="281.75" r="1.9" stroke="#1a1ab0" stroke-width="1.2" fill="none"/>
<circle cx="705.92" cy="283.2" r="1.9" stroke="#1a1ab0" stroke-width="1.2" fill="none"/>
<circle cx="694.56" cy="286.12" r="1.9" stroke="#1a1ab0" stroke-width="1.2" fill="none"/>
<circle cx="698.93" cy="285.39" r="1.9" stroke="#1a1ab0" stroke-width="1.2" fill="none"/>
<circle cx="695.29" cy="288.3" r="1.9" stroke="#1a1ab0" stroke-width="1.2" fill="none"/>
<circle cx="698.93" cy="288.3" r="1.9" stroke="#1a1ab0" stroke-width="1.2" fill="none"/>
<circle cx="695.73" cy="297.04" r="1.9" stroke="#1a1ab0" stroke-width="1.2" fill="none"/>
<circle cx="698.93" cy="295.87" r="1.9" stroke="#1a1ab0" stroke-width="1.2" fill="none"/>
<circle cx="701.84" cy="285.39" r="1.9" stroke="#1a1ab0" stroke-width="1.2" fill="none"/>
<rect x="723.05" y="269.32" width="3.6" height="3.6" stroke="#e0262e" stroke-width="1.2" fill="none"/>
<rect x="728.44" y="269.02" width="3.6" height="3.6" stroke="#e0262e" stroke-width="1.2" fill="none"/>
<rect x="716.79" y="280.38" width="3.6" height="3.6" stroke="#e0262e" stroke-width="1.2" fill="none"/>
<rect x="719.7" y="280.38" width="3.6" height="3.6" stroke="#e0262e" stroke-width="1.2" fill="none"/>
<rect x="722.62" y="280.38" width="3.6" height="3.6" stroke="#e0262e" stroke-width="1.2" fill="none"/>
<rect x="725.53" y="279.22" width="3.6" height="3.6" stroke="#e0262e" stroke-width="1.2" fill="none"/>
<rect x="728.44" y="280.67" width="3.6" height="3.6" stroke="#e0262e" stroke-width="1.2" fill="none"/>
<rect x="731.35" y="280.38" width="3.6" height="3.6" stroke="#e0262e" stroke-width="1.2" fill="none"/>
<rect x="734.27" y="278.05" width="3.6" height="3.6" stroke="#e0262e" stroke-width="1.2" fill="none"/>
<rect x="722.62" y="284.75" width="3.6" height="3.6" stroke="#e0262e" stroke-width="1.2" fill="none"/>
<rect x="728.44" y="284.75" width="3.6" height="3.6" stroke="#e0262e" stroke-width="1.2" fill="none"/>
<rect x="725.53" y="281.84" width="3.6" height="3.6" stroke="#e0262e" stroke-width="1.2" fill="none"/>
<rect x="725.53" y="294.95" width="3.6" height="3.6" stroke="#e0262e" stroke-width="1.2" fill="none"/>
<rect x="725.53" y="313.88" width="3.6" height="3.6" stroke="#e0262e" stroke-width="1.2" fill="none"/>
<circle cx="749.61" cy="318.59" r="1.9" stroke="#1a1ab0" stroke-width="1.2" fill="none"/>
<circle cx="752.81" cy="320.05" r="1.9" stroke="#1a1ab0" stroke-width="1.2" fill="none"/>
<circle cx="755.72" cy="321.07" r="1.9" stroke="#1a1ab0" stroke-width="1.2" fill="none"/>
<circle cx="758.64" cy="320.05" r="1.9" stroke="#1a1ab0" stroke-width="1.2" fill="none"/>
<circle cx="761.55" cy="319.17" r="1.9" stroke="#1a1ab0" stroke-width="1.2" fill="none"/>
<circle cx="764.17" cy="317.13" r="1.9" stroke="#1a1ab0" stroke-width="1.2" fill="none"/>
<circle cx="766.65" cy="319.17" r="1.9" stroke="#1a1ab0" stroke-width="1.2" fill="none"/>
<circle cx="753.54" cy="323.98" r="1.9" stroke="#1a1ab0" stroke-width="1.2" fill="none"/>
<circle cx="757.18" cy="323.25" r="1.9" stroke="#1a1ab0" stroke-width="1.2" fill="none"/>
<circle cx="761.55" cy="324.71" r="1.9" stroke="#1a1ab0" stroke-width="1.2" fill="none"/>
<circle cx="751.36" cy="321.79" r="1.9" stroke="#1a1ab0" stroke-width="1.2" fill="none"/>
<circle cx="759.37" cy="321.79" r="1.9" stroke="#1a1ab0" stroke-width="1.2" fill="none"/>
<circle cx="755.72" cy="318.88" r="1.9" stroke="#1a1ab0" stroke-width="1.2" fill="none"/>
<rect x="777.22" y="317.08" width="3.6" height="3.6" stroke="#e0262e" stroke-width="1.2" fill="none"/>
<rect x="780.14" y="315.62" width="3.6" height="3.6" stroke="#e0262e" stroke-width="1.2" fill="none"/>
<rect x="783.05" y="314.9" width="3.6" height="3.6" stroke="#e0262e" stroke-width="1.2" fill="none"/>
<rect x="785.96" y="310.53" width="3.6" height="3.6" stroke="#e0262e" stroke-width="1.2" fill="none"/>
<rect x="788.87" y="314.17" width="3.6" height="3.6" stroke="#e0262e" stroke-width="1.2" fill="none"/>
<rect x="791.79" y="317.08" width="3.6" height="3.6" stroke="#e0262e" stroke-width="1.2" fill="none"/>
<rect x="794.7" y="314.17" width="3.6" height="3.6" stroke="#e0262e" stroke-width="1.2" fill="none"/>
<rect x="794.7" y="317.81" width="3.6" height="3.6" stroke="#e0262e" stroke-width="1.2" fill="none"/>
<rect x="785.96" y="318.54" width="3.6" height="3.6" stroke="#e0262e" stroke-width="1.2" fill="none"/>
<rect x="783.05" y="317.37" width="3.6" height="3.6" stroke="#e0262e" stroke-width="1.2" fill="none"/>
<rect x="788.87" y="317.37" width="3.6" height="3.6" stroke="#e0262e" stroke-width="1.2" fill="none"/>
<rect x="780.14" y="317.81" width="3.6" height="3.6" stroke="#e0262e" stroke-width="1.2" fill="none"/>
<text x="124" y="405.6" font-size="11.3" text-anchor="middle">Serum TCH</text>
<line x1="63.4" y1="449.3" x2="63.4" y2="531.4" stroke="#111111" stroke-width="1.6"/>
<line x1="62.6" y1="530.6" x2="184.5" y2="530.6" stroke="#111111" stroke-width="1.6"/>
<line x1="60.2" y1="450.1" x2="63.4" y2="450.1" stroke="#111111" stroke-width="1.4"/>
<text x="59.6" y="454.06" font-size="11.3" text-anchor="end">300</text>
<line x1="60.2" y1="463.52" x2="63.4" y2="463.52" stroke="#111111" stroke-width="1.4"/>
<text x="59.6" y="467.48" font-size="11.3" text-anchor="end">250</text>
<line x1="60.2" y1="476.93" x2="63.4" y2="476.93" stroke="#111111" stroke-width="1.4"/>
<text x="59.6" y="480.89" font-size="11.3" text-anchor="end">200</text>
<line x1="60.2" y1="490.35" x2="63.4" y2="490.35" stroke="#111111" stroke-width="1.4"/>
<text x="59.6" y="494.31" font-size="11.3" text-anchor="end">150</text>
<line x1="60.2" y1="503.77" x2="63.4" y2="503.77" stroke="#111111" stroke-width="1.4"/>
<text x="59.6" y="507.73" font-size="11.3" text-anchor="end">100</text>
<line x1="60.2" y1="517.18" x2="63.4" y2="517.18" stroke="#111111" stroke-width="1.4"/>
<text x="59.6" y="521.14" font-size="11.3" text-anchor="end">50</text>
<line x1="60.2" y1="530.6" x2="63.4" y2="530.6" stroke="#111111" stroke-width="1.4"/>
<text x="59.6" y="534.56" font-size="11.3" text-anchor="end">0</text>
<line x1="78.2" y1="530.6" x2="78.2" y2="533.8" stroke="#111111" stroke-width="1.4"/>
<line x1="108.5" y1="530.6" x2="108.5" y2="533.8" stroke="#111111" stroke-width="1.4"/>
<line x1="138.8" y1="530.6" x2="138.8" y2="533.8" stroke="#111111" stroke-width="1.4"/>
<line x1="169.2" y1="530.6" x2="169.2" y2="533.8" stroke="#111111" stroke-width="1.4"/>
<text x="81" y="543.6" font-size="11.01" text-anchor="end" transform="rotate(-45 81 543.6)">MMI+Ad-shCtrl</text>
<text x="111.3" y="543.6" font-size="11.01" text-anchor="end" transform="rotate(-45 111.3 543.6)">MMI+Ad-shMAFG</text>
<text x="141.6" y="543.6" font-size="11.01" text-anchor="end" transform="rotate(-45 141.6 543.6)">MMI+T3+Ad-shCtrl</text>
<text x="172" y="543.6" font-size="11.01" text-anchor="end" transform="rotate(-45 172 543.6)">MMI+T3+Ad-shMAFG</text>
<text x="24.3" y="487.6" font-size="11.3" text-anchor="middle" transform="rotate(-90 24.3 487.6)">Concentration</text>
<text x="36.5" y="487.6" font-size="11.3" text-anchor="middle" transform="rotate(-90 36.5 487.6)">(mg/dL)</text>
<line x1="81.3" y1="438.3" x2="140.1" y2="438.3" stroke="#111111" stroke-width="1.4"/>
<text x="111.35" y="436.8" font-size="8.5" text-anchor="middle" class="t" letter-spacing="1.3">***</text>
<text x="112.5" y="428.7" font-size="7.6" text-anchor="middle" class="t">X0.42</text>
<line x1="81.8" y1="457.4" x2="104.8" y2="457.4" stroke="#111111" stroke-width="1.4"/>
<text x="93.95" y="455.9" font-size="8.5" text-anchor="middle" class="t" letter-spacing="1.3">***</text>
<text x="92.6" y="448.7" font-size="7.6" text-anchor="middle" class="t">X0.59</text>
<line x1="110.5" y1="457.4" x2="170.2" y2="457.4" stroke="#111111" stroke-width="1.4"/>
<text x="141" y="455.9" font-size="8.5" text-anchor="middle" class="t" letter-spacing="1.3">***</text>
<text x="139.4" y="448.7" font-size="7.6" text-anchor="middle" class="t">X0.61</text>
<line x1="141.6" y1="495.4" x2="164.2" y2="495.4" stroke="#111111" stroke-width="1.4"/>
<text x="153.55" y="493.9" font-size="8.5" text-anchor="middle" class="t" letter-spacing="1.3">***</text>
<text x="153.6" y="482.2" font-size="7.6" text-anchor="middle" class="t">X0.73</text>
<line x1="68.85" y1="471.8" x2="88.35" y2="471.8" stroke="#1a1ab0" stroke-width="1.4"/>
<line x1="78.6" y1="468.2" x2="78.6" y2="475" stroke="#1a1ab0" stroke-width="1.4"/>
<line x1="73.85" y1="468.2" x2="83.35" y2="468.2" stroke="#1a1ab0" stroke-width="1.4"/>
<line x1="73.85" y1="475" x2="83.35" y2="475" stroke="#1a1ab0" stroke-width="1.4"/>
<circle cx="78.7" cy="460.9" r="1.9" stroke="#1a1ab0" stroke-width="1.2" fill="none"/>
<circle cx="72" cy="466" r="1.9" stroke="#1a1ab0" stroke-width="1.2" fill="none"/>
<circle cx="78.7" cy="465.3" r="1.9" stroke="#1a1ab0" stroke-width="1.2" fill="none"/>
<circle cx="78.7" cy="476.2" r="1.9" stroke="#1a1ab0" stroke-width="1.2" fill="none"/>
<circle cx="72" cy="480.9" r="1.9" stroke="#1a1ab0" stroke-width="1.2" fill="none"/>
<circle cx="85.1" cy="479.4" r="1.9" stroke="#1a1ab0" stroke-width="1.2" fill="none"/>
<rect x="98.3" y="497.8" width="3.6" height="3.6" stroke="#e0262e" stroke-width="1.2" fill="none"/>
<rect x="98.3" y="502" width="3.6" height="3.6" stroke="#e0262e" stroke-width="1.2" fill="none"/>
<rect x="102.4" y="499.9" width="3.6" height="3.6" stroke="#e0262e" stroke-width="1.2" fill="none"/>
<rect x="106.5" y="499.9" width="3.6" height="3.6" stroke="#e0262e" stroke-width="1.2" fill="none"/>
<rect x="110.4" y="498" width="3.6" height="3.6" stroke="#e0262e" stroke-width="1.2" fill="none"/>
<rect x="110.4" y="501.8" width="3.6" height="3.6" stroke="#e0262e" stroke-width="1.2" fill="none"/>
<rect x="115.8" y="499.9" width="3.6" height="3.6" stroke="#e0262e" stroke-width="1.2" fill="none"/>
<rect x="104.6" y="499.9" width="3.6" height="3.6" stroke="#e0262e" stroke-width="1.2" fill="#e0262e"/>
<line x1="129.25" y1="505.8" x2="148.75" y2="505.8" stroke="#1a1ab0" stroke-width="1.4"/>
<line x1="139" y1="503.5" x2="139" y2="508.5" stroke="#1a1ab0" stroke-width="1.4"/>
<line x1="134.25" y1="503.5" x2="143.75" y2="503.5" stroke="#1a1ab0" stroke-width="1.4"/>
<line x1="134.25" y1="508.5" x2="143.75" y2="508.5" stroke="#1a1ab0" stroke-width="1.4"/>
<circle cx="132.6" cy="501.7" r="1.9" stroke="#1a1ab0" stroke-width="1.2" fill="none"/>
<circle cx="139" cy="502.1" r="1.9" stroke="#1a1ab0" stroke-width="1.2" fill="none"/>
<circle cx="145.3" cy="499.5" r="1.9" stroke="#1a1ab0" stroke-width="1.2" fill="none"/>
<circle cx="132.6" cy="512.3" r="1.9" stroke="#1a1ab0" stroke-width="1.2" fill="none"/>
<circle cx="145.3" cy="511.9" r="1.9" stroke="#1a1ab0" stroke-width="1.2" fill="none"/>
<circle cx="138.7" cy="508" r="1.9" stroke="#1a1ab0" stroke-width="1.2" fill="#1a1ab0"/>
<rect x="158.7" y="511.1" width="3.6" height="3.6" stroke="#e0262e" stroke-width="1.2" fill="none"/>
<rect x="162.2" y="511.1" width="3.6" height="3.6" stroke="#e0262e" stroke-width="1.2" fill="none"/>
<rect x="165.7" y="511.1" width="3.6" height="3.6" stroke="#e0262e" stroke-width="1.2" fill="none"/>
<rect x="169.2" y="511.1" width="3.6" height="3.6" stroke="#e0262e" stroke-width="1.2" fill="none"/>
<rect x="172.7" y="511.1" width="3.6" height="3.6" stroke="#e0262e" stroke-width="1.2" fill="none"/>
<rect x="176.2" y="511.1" width="3.6" height="3.6" stroke="#e0262e" stroke-width="1.2" fill="none"/>
<rect x="291.7" y="463" width="149.7" height="16.5" fill="#a4a4a4"/>
<rect x="296.15" y="469.9" width="9.3" height="2.8" rx="1.4" fill="#5a5a5a" filter="url(#bl)"/>
<rect x="311.55" y="469.9" width="9.3" height="2.8" rx="1.4" fill="#5a5a5a" filter="url(#bl)"/>
<rect x="328.35" y="469.9" width="9.3" height="2.8" rx="1.4" fill="#5a5a5a" filter="url(#bl)"/>
<rect x="343" y="469.5" width="12" height="3.6" rx="1.8" fill="#262626" filter="url(#bl)"/>
<rect x="359.7" y="469.5" width="12" height="3.6" rx="1.8" fill="#262626" filter="url(#bl)"/>
<rect x="376.2" y="469.5" width="12" height="3.6" rx="1.8" fill="#262626" filter="url(#bl)"/>
<rect x="392.7" y="469.5" width="12" height="3.6" rx="1.8" fill="#262626" filter="url(#bl)"/>
<rect x="408.9" y="469.5" width="12" height="3.6" rx="1.8" fill="#262626" filter="url(#bl)"/>
<rect x="425.3" y="469.5" width="12" height="3.6" rx="1.8" fill="#262626" filter="url(#bl)"/>
<rect x="291.7" y="485" width="149.7" height="12.8" fill="#adadad"/>
<rect x="296.3" y="490.2" width="9" height="2.6" rx="1.3" fill="#8a8a8a" filter="url(#bl)"/>
<rect x="311.7" y="490.2" width="9" height="2.6" rx="1.3" fill="#8a8a8a" filter="url(#bl)"/>
<rect x="328.5" y="490.2" width="9" height="2.6" rx="1.3" fill="#8a8a8a" filter="url(#bl)"/>
<rect x="342.62" y="489.4" width="12.75" height="4.2" rx="2.1" fill="#1e1e1e" filter="url(#bl)"/>
<rect x="359.32" y="489.4" width="12.75" height="4.2" rx="2.1" fill="#1e1e1e" filter="url(#bl)"/>
<rect x="375.82" y="489.4" width="12.75" height="4.2" rx="2.1" fill="#1e1e1e" filter="url(#bl)"/>
<rect x="393.07" y="490" width="11.25" height="3" rx="1.5" fill="#3c3c3c" filter="url(#bl)"/>
<rect x="409.27" y="490" width="11.25" height="3" rx="1.5" fill="#3c3c3c" filter="url(#bl)"/>
<rect x="425.68" y="490" width="11.25" height="3" rx="1.5" fill="#3c3c3c" filter="url(#bl)"/>
<rect x="291.7" y="502.6" width="149.7" height="17.2" fill="#a6a6a6"/>
<rect x="293.3" y="507.4" width="15" height="8" rx="4" fill="#0e0e0e" filter="url(#bl)"/>
<rect x="308.7" y="507.4" width="15" height="8" rx="4" fill="#0e0e0e" filter="url(#bl)"/>
<rect x="325.5" y="507.4" width="15" height="8" rx="4" fill="#0e0e0e" filter="url(#bl)"/>
<rect x="343" y="509.4" width="12" height="4" rx="2" fill="#222222" filter="url(#bl)"/>
<rect x="359.7" y="509.4" width="12" height="4" rx="2" fill="#222222" filter="url(#bl)"/>
<rect x="376.2" y="509.4" width="12" height="4" rx="2" fill="#222222" filter="url(#bl)"/>
<rect x="392.7" y="509.4" width="12" height="4" rx="2" fill="#222222" filter="url(#bl)"/>
<rect x="408.9" y="509.4" width="12" height="4" rx="2" fill="#222222" filter="url(#bl)"/>
<rect x="425.3" y="509.4" width="12" height="4" rx="2" fill="#222222" filter="url(#bl)"/>
<rect x="291.7" y="525" width="149.7" height="17.2" fill="#c0c0c0"/>
<rect x="296.3" y="533.15" width="9" height="2.5" rx="1.25" fill="#a8a8a8" filter="url(#bl)"/>
<rect x="311.7" y="533.15" width="9" height="2.5" rx="1.25" fill="#a8a8a8" filter="url(#bl)"/>
<rect x="328.5" y="533.15" width="9" height="2.5" rx="1.25" fill="#a8a8a8" filter="url(#bl)"/>
<rect x="342.62" y="532.3" width="12.75" height="4.2" rx="2.1" fill="#454545" filter="url(#bl)"/>
<rect x="359.32" y="532.3" width="12.75" height="4.2" rx="2.1" fill="#454545" filter="url(#bl)"/>
<rect x="375.82" y="532.3" width="12.75" height="4.2" rx="2.1" fill="#454545" filter="url(#bl)"/>
<rect x="393.45" y="532.9" width="10.5" height="3" rx="1.5" fill="#555555" filter="url(#bl)"/>
<rect x="409.65" y="532.9" width="10.5" height="3" rx="1.5" fill="#555555" filter="url(#bl)"/>
<rect x="426.05" y="532.9" width="10.5" height="3" rx="1.5" fill="#555555" filter="url(#bl)"/>
<rect x="291.7" y="547.3" width="149.7" height="14.3" fill="#a6a6a6"/>
<rect x="294.95" y="550.7" width="11.7" height="7.8" rx="3.9" fill="#161616" filter="url(#bl)"/>
<rect x="310.35" y="550.7" width="11.7" height="7.8" rx="3.9" fill="#161616" filter="url(#bl)"/>
<rect x="327.15" y="550.7" width="11.7" height="7.8" rx="3.9" fill="#161616" filter="url(#bl)"/>
<rect x="343.15" y="550.7" width="11.7" height="7.8" rx="3.9" fill="#161616" filter="url(#bl)"/>
<rect x="359.85" y="550.7" width="11.7" height="7.8" rx="3.9" fill="#161616" filter="url(#bl)"/>
<rect x="376.35" y="550.7" width="11.7" height="7.8" rx="3.9" fill="#161616" filter="url(#bl)"/>
<rect x="392.85" y="550.7" width="11.7" height="7.8" rx="3.9" fill="#161616" filter="url(#bl)"/>
<rect x="409.05" y="550.7" width="11.7" height="7.8" rx="3.9" fill="#161616" filter="url(#bl)"/>
<rect x="425.45" y="550.7" width="11.7" height="7.8" rx="3.9" fill="#161616" filter="url(#bl)"/>
<text x="287.5" y="475" font-size="10.8" text-anchor="end">CYP7A1</text>
<text x="287.5" y="495.2" font-size="10.8" text-anchor="end">CYP7B1</text>
<text x="287.5" y="515.5" font-size="10.8" text-anchor="end">CYP8B1</text>
<text x="287.5" y="537.5" font-size="10.8" text-anchor="end">CYP27A1</text>
<text x="287.5" y="558.8" font-size="10.8" text-anchor="end">GAPDH</text>
<line x1="292.8" y1="458.8" x2="338.3" y2="458.8" stroke="#3a3a3a" stroke-width="1.9"/>
<line x1="341.6" y1="458.8" x2="386.3" y2="458.8" stroke="#3a3a3a" stroke-width="1.9"/>
<line x1="392.7" y1="458.8" x2="437.9" y2="458.8" stroke="#3a3a3a" stroke-width="1.9"/>
<text x="315.3" y="456.2" font-size="11.3" text-anchor="start" transform="rotate(-45 315.3 456.2)">WT-MMI</text>
<text x="361.3" y="456.2" font-size="11.3" text-anchor="start" transform="rotate(-45 361.3 456.2)">WT-MMI+T3</text>
<text x="415.8" y="456.2" font-size="11.3" text-anchor="start" transform="rotate(-45 415.8 456.2)">KO-MMI+T3</text>
<line x1="514.2" y1="451.71" x2="514.2" y2="533.6" stroke="#111111" stroke-width="1.6"/>
<line x1="513.4" y1="532.8" x2="634.8" y2="532.8" stroke="#111111" stroke-width="1.6"/>
<line x1="511" y1="452.51" x2="514.2" y2="452.51" stroke="#111111" stroke-width="1.4"/>
<text x="510.4" y="456.29" font-size="10.5" text-anchor="end">7.0</text>
<line x1="511" y1="492.65" x2="514.2" y2="492.65" stroke="#111111" stroke-width="1.4"/>
<text x="510.4" y="496.43" font-size="10.5" text-anchor="end">3.5</text>
<line x1="511" y1="532.8" x2="514.2" y2="532.8" stroke="#111111" stroke-width="1.4"/>
<text x="510.4" y="536.58" font-size="10.5" text-anchor="end">0.0</text>
<line x1="532.9" y1="532.8" x2="532.9" y2="536" stroke="#111111" stroke-width="1.4"/>
<line x1="574.3" y1="532.8" x2="574.3" y2="536" stroke="#111111" stroke-width="1.4"/>
<line x1="615.6" y1="532.8" x2="615.6" y2="536" stroke="#111111" stroke-width="1.4"/>
<text x="535.7" y="545.8" font-size="10.8" text-anchor="end" transform="rotate(-45 535.7 545.8)">CYP7A1</text>
<text x="577.1" y="545.8" font-size="10.8" text-anchor="end" transform="rotate(-45 577.1 545.8)">CYP7B1</text>
<text x="618.4" y="545.8" font-size="10.8" text-anchor="end" transform="rotate(-45 618.4 545.8)">CYP27A1</text>
<text x="487.5" y="490" font-size="11.3" text-anchor="middle" transform="rotate(-90 487.5 490)">Relative protein levels</text>
<text x="574" y="432.5" font-size="11.3" text-anchor="middle">Liver</text>
<rect x="519" y="521.9" width="6.2" height="10.9" stroke="#1a1ab0" stroke-width="1.4" fill="none"/>
<rect x="529.7" y="502.98" width="6.2" height="29.82" stroke="#26883a" stroke-width="1.4" fill="none"/>
<rect x="541.2" y="498.39" width="6.2" height="34.41" stroke="#e0262e" stroke-width="1.4" fill="none"/>
<rect x="560.3" y="521.9" width="6.2" height="10.9" stroke="#1a1ab0" stroke-width="1.4" fill="none"/>
<rect x="571" y="475.45" width="6.2" height="57.35" stroke="#26883a" stroke-width="1.4" fill="none"/>
<rect x="582.5" y="498.39" width="6.2" height="34.41" stroke="#e0262e" stroke-width="1.4" fill="none"/>
<rect x="601.6" y="521.33" width="6.2" height="11.47" stroke="#1a1ab0" stroke-width="1.4" fill="none"/>
<rect x="612.3" y="475.45" width="6.2" height="57.35" stroke="#26883a" stroke-width="1.4" fill="none"/>
<rect x="623.8" y="496.1" width="6.2" height="36.7" stroke="#e0262e" stroke-width="1.4" fill="none"/>
<line x1="520.8" y1="443.4" x2="543.8" y2="443.4" stroke="#111111" stroke-width="1.4"/>
<text x="533.01" y="441.9" font-size="9.35" text-anchor="middle" class="t" letter-spacing="1.43">***</text>
<line x1="520.8" y1="453" x2="531.7" y2="453" stroke="#111111" stroke-width="1.0"/>
<text x="526.97" y="451.5" font-size="9.35" text-anchor="middle" class="t" letter-spacing="1.43">***</text>
<line x1="534.2" y1="453" x2="544.4" y2="453" stroke="#111111" stroke-width="1.0"/>
<text x="539.3" y="451" font-size="7.5" text-anchor="middle" class="t">NS</text>
<line x1="563.5" y1="443.4" x2="586" y2="443.4" stroke="#111111" stroke-width="1.4"/>
<text x="575.47" y="441.9" font-size="9.35" text-anchor="middle" class="t" letter-spacing="1.43">**</text>
<line x1="563.5" y1="453" x2="572.5" y2="453" stroke="#111111" stroke-width="1.0"/>
<text x="568.72" y="451.5" font-size="9.35" text-anchor="middle" class="t" letter-spacing="1.43">**</text>
<line x1="576.4" y1="453" x2="586" y2="453" stroke="#111111" stroke-width="1.0"/>
<text x="581.92" y="451.5" font-size="9.35" text-anchor="middle" class="t" letter-spacing="1.43">*</text>
<line x1="603.7" y1="443.4" x2="626.1" y2="443.4" stroke="#111111" stroke-width="1.4"/>
<text x="615.62" y="441.9" font-size="9.35" text-anchor="middle" class="t" letter-spacing="1.43">***</text>
<line x1="603.7" y1="453" x2="613.3" y2="453" stroke="#111111" stroke-width="1.0"/>
<text x="609.22" y="451.5" font-size="9.35" text-anchor="middle" class="t" letter-spacing="1.43">**</text>
<line x1="617.1" y1="453" x2="626.1" y2="453" stroke="#111111" stroke-width="1.0"/>
<text x="622.32" y="451.5" font-size="9.35" text-anchor="middle" class="t" letter-spacing="1.43">*</text>
<circle cx="519.8" cy="521.9" r="1.9" stroke="#1a1ab0" stroke-width="1.2" fill="none"/>
<circle cx="521.7" cy="521.33" r="1.9" stroke="#1a1ab0" stroke-width="1.2" fill="none"/>
<circle cx="523.5" cy="521.9" r="1.9" stroke="#1a1ab0" stroke-width="1.2" fill="none"/>
<path d="M531 501.72L533.4 504.12L531 506.52L528.6 504.12Z" stroke="#26883a" stroke-width="1.2" fill="none"/>
<path d="M533 497.14L535.4 499.54L533 501.94L530.6 499.54Z" stroke="#26883a" stroke-width="1.2" fill="none"/>
<path d="M534.8 501.15L537.2 503.55L534.8 505.95L532.4 503.55Z" stroke="#26883a" stroke-width="1.2" fill="none"/>
<rect x="540.5" y="497.74" width="3.6" height="3.6" stroke="#e0262e" stroke-width="1.2" fill="none"/>
<rect x="542.4" y="495.44" width="3.6" height="3.6" stroke="#e0262e" stroke-width="1.2" fill="none"/>
<rect x="544.2" y="496.59" width="3.6" height="3.6" stroke="#e0262e" stroke-width="1.2" fill="none"/>
<circle cx="562.7" cy="524.2" r="1.9" stroke="#1a1ab0" stroke-width="1.2" fill="none"/>
<circle cx="562.7" cy="521.33" r="1.9" stroke="#1a1ab0" stroke-width="1.2" fill="none"/>
<circle cx="564.5" cy="517.89" r="1.9" stroke="#1a1ab0" stroke-width="1.2" fill="none"/>
<path d="M574.3 482.23L576.7 484.63L574.3 487.03L571.9 484.63Z" stroke="#26883a" stroke-width="1.2" fill="none"/>
<path d="M574.3 475.34L576.7 477.74L574.3 480.14L571.9 477.74Z" stroke="#26883a" stroke-width="1.2" fill="none"/>
<path d="M574.3 461.58L576.7 463.98L574.3 466.38L571.9 463.98Z" stroke="#26883a" stroke-width="1.2" fill="none"/>
<line x1="574.3" y1="468.57" x2="574.3" y2="481.18" stroke="#26883a" stroke-width="1.4"/>
<line x1="571.5" y1="468.57" x2="577" y2="468.57" stroke="#26883a" stroke-width="1.4"/>
<rect x="584" y="501.18" width="3.6" height="3.6" stroke="#e0262e" stroke-width="1.2" fill="none"/>
<rect x="584" y="496.59" width="3.6" height="3.6" stroke="#e0262e" stroke-width="1.2" fill="none"/>
<rect x="584" y="492" width="3.6" height="3.6" stroke="#e0262e" stroke-width="1.2" fill="none"/>
<circle cx="602.6" cy="521.9" r="1.9" stroke="#1a1ab0" stroke-width="1.2" fill="none"/>
<circle cx="604.4" cy="520.76" r="1.9" stroke="#1a1ab0" stroke-width="1.2" fill="none"/>
<circle cx="606.2" cy="521.9" r="1.9" stroke="#1a1ab0" stroke-width="1.2" fill="none"/>
<path d="M615.6 477.64L618 480.04L615.6 482.44L613.2 480.04Z" stroke="#26883a" stroke-width="1.2" fill="none"/>
<path d="M615.6 473.05L618 475.45L615.6 477.85L613.2 475.45Z" stroke="#26883a" stroke-width="1.2" fill="none"/>
<path d="M615.6 461.58L618 463.98L615.6 466.38L613.2 463.98Z" stroke="#26883a" stroke-width="1.2" fill="none"/>
<line x1="615.6" y1="468.57" x2="615.6" y2="481.18" stroke="#26883a" stroke-width="1.4"/>
<line x1="612.8" y1="468.57" x2="618.4" y2="468.57" stroke="#26883a" stroke-width="1.4"/>
<rect x="623.9" y="496.59" width="3.6" height="3.6" stroke="#e0262e" stroke-width="1.2" fill="none"/>
<rect x="625.7" y="493.15" width="3.6" height="3.6" stroke="#e0262e" stroke-width="1.2" fill="none"/>
<rect x="627.2" y="490.85" width="3.6" height="3.6" stroke="#e0262e" stroke-width="1.2" fill="none"/>
<line x1="694" y1="450.96" x2="694" y2="533.8" stroke="#111111" stroke-width="1.6"/>
<line x1="693.2" y1="533" x2="747.6" y2="533" stroke="#111111" stroke-width="1.6"/>
<line x1="690.8" y1="451.76" x2="694" y2="451.76" stroke="#111111" stroke-width="1.4"/>
<text x="690.2" y="455.54" font-size="10.5" text-anchor="end">1.2</text>
<line x1="690.8" y1="478.84" x2="694" y2="478.84" stroke="#111111" stroke-width="1.4"/>
<text x="690.2" y="482.62" font-size="10.5" text-anchor="end">0.8</text>
<line x1="690.8" y1="505.92" x2="694" y2="505.92" stroke="#111111" stroke-width="1.4"/>
<text x="690.2" y="509.7" font-size="10.5" text-anchor="end">0.4</text>
<line x1="690.8" y1="533" x2="694" y2="533" stroke="#111111" stroke-width="1.4"/>
<text x="690.2" y="536.78" font-size="10.5" text-anchor="end">0.0</text>
<line x1="720.7" y1="533" x2="720.7" y2="536.2" stroke="#111111" stroke-width="1.4"/>
<text x="723.5" y="546" font-size="10.8" text-anchor="end" transform="rotate(-45 723.5 546)">CYP8B1</text>
<text x="667.5" y="490" font-size="11.3" text-anchor="middle" transform="rotate(-90 667.5 490)">Relative protein levels</text>
<text x="720.5" y="432.3" font-size="11.3" text-anchor="middle">Liver</text>
<rect x="700.5" y="465.98" width="8.6" height="67.02" stroke="#1a1ab0" stroke-width="1.4" fill="none"/>
<rect x="716.4" y="493.06" width="8.6" height="39.94" stroke="#26883a" stroke-width="1.4" fill="none"/>
<rect x="732.4" y="502.53" width="8.6" height="30.47" stroke="#e0262e" stroke-width="1.4" fill="none"/>
<line x1="705.4" y1="442.9" x2="736" y2="442.9" stroke="#111111" stroke-width="1.4"/>
<text x="721.42" y="441.4" font-size="9.35" text-anchor="middle" class="t" letter-spacing="1.43">**</text>
<line x1="705.4" y1="452.2" x2="718.7" y2="452.2" stroke="#111111" stroke-width="1.0"/>
<text x="712.76" y="450.7" font-size="9.35" text-anchor="middle" class="t" letter-spacing="1.43">**</text>
<line x1="722.1" y1="452.2" x2="736" y2="452.2" stroke="#111111" stroke-width="1.0"/>
<text x="729.76" y="450.7" font-size="9.35" text-anchor="middle" class="t" letter-spacing="1.43">*</text>
<line x1="704.8" y1="459.88" x2="704.8" y2="472.07" stroke="#1a1ab0" stroke-width="1.4"/>
<line x1="702" y1="459.88" x2="707.6" y2="459.88" stroke="#1a1ab0" stroke-width="1.4"/>
<circle cx="708.8" cy="459.21" r="1.9" stroke="#1a1ab0" stroke-width="1.2" fill="none"/>
<circle cx="704" cy="476.81" r="1.9" stroke="#1a1ab0" stroke-width="1.2" fill="none"/>
<circle cx="705.5" cy="461.91" r="1.9" stroke="#1a1ab0" stroke-width="1.2" fill="#1a1ab0"/>
<path d="M718.5 489.98L720.9 492.38L718.5 494.78L716.1 492.38Z" stroke="#26883a" stroke-width="1.2" fill="none"/>
<path d="M720.7 488.63L723.1 491.03L720.7 493.43L718.3 491.03Z" stroke="#26883a" stroke-width="1.2" fill="none"/>
<path d="M722.8 489.98L725.2 492.38L722.8 494.78L720.4 492.38Z" stroke="#26883a" stroke-width="1.2" fill="none"/>
<path d="M720.7 492.01L723.1 494.41L720.7 496.81L718.3 494.41Z" stroke="#26883a" stroke-width="1.2" fill="none"/>
<rect x="731.7" y="500.06" width="3.6" height="3.6" stroke="#e0262e" stroke-width="1.2" fill="none"/>
<rect x="738.2" y="500.06" width="3.6" height="3.6" stroke="#e0262e" stroke-width="1.2" fill="none"/>
<rect x="734.9" y="496" width="3.6" height="3.6" stroke="#e0262e" stroke-width="1.2" fill="none"/>
<circle cx="748.6" cy="438.9" r="1.9" stroke="#1a1ab0" stroke-width="1.2" fill="none"/>
<text x="757.5" y="443.3" font-size="11.5" text-anchor="start">WT-MMI</text>
<path d="M748.6 446.5L751 448.9L748.6 451.3L746.2 448.9Z" stroke="#26883a" stroke-width="1.2" fill="none"/>
<text x="757.5" y="453.1" font-size="11.5" text-anchor="start">WT-MMI+T3</text>
<rect x="746.8" y="457" width="3.6" height="3.6" stroke="#e0262e" stroke-width="1.2" fill="none"/>
<text x="757.5" y="463.1" font-size="11.5" text-anchor="start">KO-MMI+T3</text>
</svg></body></html>
